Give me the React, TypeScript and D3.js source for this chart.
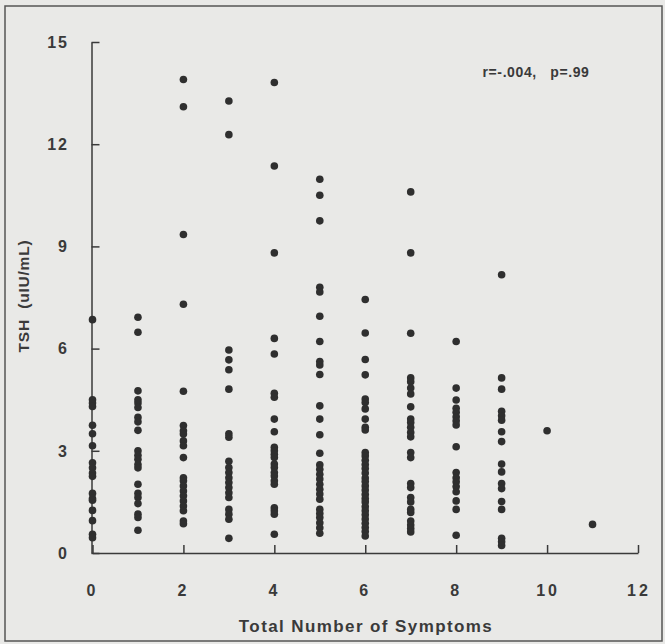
import { useEffect, useRef } from 'react';
import * as d3 from 'd3';

// TSH values, one list per symptom count
const symptoms0 = [6.85, 4.5, 4.4, 4.3, 3.75, 3.5, 3.15, 2.65, 2.5, 2.35, 2.25, 1.75, 1.6, 1.55, 1.25, 0.95, 0.55, 0.45];
const symptoms1 = [6.92, 6.48, 4.76, 4.5, 4.4, 4.27, 3.98, 3.85, 3.6, 3.0, 2.87, 2.75, 2.6, 2.5, 2.02, 1.75, 1.63, 1.45, 1.14, 1.04, 0.67];
const symptoms2 = [13.9, 13.1, 9.35, 7.3, 4.75, 3.74, 3.59, 3.49, 3.29, 3.15, 2.8, 2.21, 2.12, 1.97, 1.82, 1.68, 1.53, 1.38, 1.24, 0.94, 0.86];
const symptoms3 = [13.27, 12.28, 5.96, 5.67, 5.38, 4.81, 3.5, 3.4, 2.69, 2.51, 2.36, 2.21, 2.07, 1.92, 1.77, 1.63, 1.28, 1.14, 0.99, 0.43];
const symptoms4 = [13.81, 11.36, 8.81, 6.3, 5.84, 4.69, 4.57, 3.93, 3.56, 3.1, 3.0, 2.9, 2.8, 2.61, 2.51, 2.36, 2.26, 2.12, 2.02, 1.33, 1.24, 1.14, 0.55];
const symptoms5 = [10.97, 10.5, 9.75, 7.8, 7.66, 6.95, 6.21, 5.62, 5.52, 5.24, 4.32, 3.93, 3.47, 2.93, 2.59, 2.46, 2.31, 2.17, 2.02, 1.87, 1.73, 1.58, 1.28, 1.16, 1.04, 0.89, 0.74, 0.58];
const symptoms6 = [7.44, 6.46, 5.68, 5.23, 4.52, 4.42, 4.23, 3.93, 3.69, 3.61, 2.95, 2.85, 2.72, 2.6, 2.48, 2.35, 2.2, 2.1, 1.97, 1.85, 1.72, 1.6, 1.5, 1.36, 1.24, 1.12, 1.0, 0.87, 0.75, 0.63, 0.5];
const symptoms7 = [10.6, 8.81, 6.45, 5.14, 5.03, 4.84, 4.67, 4.29, 3.93, 3.83, 3.69, 3.54, 3.41, 2.95, 2.8, 2.04, 1.92, 1.63, 1.5, 1.28, 1.19, 0.94, 0.82, 0.72, 0.62];
const symptoms8 = [6.21, 4.84, 4.49, 4.25, 4.13, 4.0, 3.88, 3.76, 3.12, 2.36, 2.21, 2.09, 1.95, 1.8, 1.53, 1.28, 0.52];
const symptoms9 = [8.17, 5.14, 4.81, 4.16, 4.03, 3.9, 3.56, 3.27, 2.61, 2.38, 2.04, 1.89, 1.51, 1.28, 0.43, 0.33, 0.22];
const symptoms10 = [3.59];
const symptoms11 = [0.84];

const columns = [symptoms0, symptoms1, symptoms2, symptoms3, symptoms4, symptoms5,
  symptoms6, symptoms7, symptoms8, symptoms9, symptoms10, symptoms11];

const xTicks = [0, 2, 4, 6, 8, 10, 12];
const yTicks = [0, 3, 6, 9, 12, 15];

const W = 665;
const H = 644;
const FONT = '"Liberation Sans", Arial, Helvetica, sans-serif';

const App = () => {
  const svgRef = useRef<SVGSVGElement>(null);

  useEffect(() => {
    const svg = d3.select(svgRef.current);
    svg.selectAll('*').remove();

    const x = d3.scaleLinear().domain([0, 12]).range([92.5, 638]);
    const y = d3.scaleLinear().domain([0, 15]).range([553, 42]);

    // paper + frame
    svg.append('rect').attr('width', W).attr('height', H).attr('fill', '#e9e9e7');
    svg.append('rect')
      .attr('x', 5).attr('y', 6).attr('width', 657).attr('height', 635)
      .attr('fill', 'none').attr('stroke', '#555').attr('stroke-width', 1.5);

    const ink = '#3a3a3a';

    // y axis, ticks inward
    const yAxis = svg.append('g')
      .attr('transform', `translate(${x(0) - 1},0)`)
      .call(d3.axisRight(y).tickValues(yTicks).tickSize(8).tickFormat(() => '').tickSizeOuter(0));
    yAxis.selectAll('.domain, .tick line').attr('stroke', ink).attr('stroke-width', 1.5);

    // x axis, ticks inward
    const xAxis = svg.append('g')
      .attr('transform', `translate(0,${y(0)})`)
      .call(d3.axisTop(x).tickValues(xTicks).tickSize(8).tickFormat(() => '').tickSizeOuter(0));
    xAxis.selectAll('.domain, .tick line').attr('stroke', ink).attr('stroke-width', 1.5);

    // tick labels
    svg.append('g').selectAll('text')
      .data(yTicks)
      .enter()
      .append('text')
      .attr('x', 69)
      .attr('y', d => y(d))
      .attr('dy', '0.36em')
      .attr('text-anchor', 'end')
      .attr('font-family', FONT)
      .attr('font-weight', 'bold')
      .attr('font-size', '16px')
      .attr('letter-spacing', '2px')
      .attr('fill', ink)
      .text(d => d);

    svg.append('g').selectAll('text')
      .data(xTicks)
      .enter()
      .append('text')
      .attr('x', d => x(d) + (d >= 10 ? 1 : 0))
      .attr('y', 590)
      .attr('dy', '0.36em')
      .attr('text-anchor', 'middle')
      .attr('font-family', FONT)
      .attr('font-weight', 'bold')
      .attr('font-size', '16px')
      .attr('letter-spacing', '3px')
      .attr('fill', ink)
      .text(d => d);

    // axis titles
    svg.append('text')
      .attr('x', 366)
      .attr('y', 626)
      .attr('dy', '0.36em')
      .attr('text-anchor', 'middle')
      .attr('font-family', FONT)
      .attr('font-weight', 'bold')
      .attr('font-size', '17px')
      .attr('letter-spacing', '1.4px')
      .attr('fill', ink)
      .text('Total Number of Symptoms');

    svg.append('text')
      .attr('transform', 'translate(23,296) rotate(-90)')
      .attr('dy', '0.36em')
      .attr('text-anchor', 'middle')
      .attr('font-family', FONT)
      .attr('font-weight', 'bold')
      .attr('font-size', '15.5px')
      .attr('letter-spacing', '0.8px')
      .attr('fill', ink)
      .style('white-space', 'pre')
      .text('TSH  (uIU/mL)');

    svg.append('text')
      .attr('x', 536)
      .attr('y', 72)
      .attr('dy', '0.36em')
      .attr('text-anchor', 'middle')
      .attr('font-family', FONT)
      .attr('font-weight', 'bold')
      .attr('font-size', '14px')
      .attr('letter-spacing', '0.6px')
      .attr('fill', ink)
      .style('white-space', 'pre')
      .text('r=-.004,   p=.99');

    // points
    const points = columns.flatMap((vals, i) => vals.map(v => ({ n: i, tsh: v })));
    svg.append('g').selectAll('circle')
      .data(points)
      .enter()
      .append('circle')
      .attr('cx', d => x(d.n))
      .attr('cy', d => y(d.tsh))
      .attr('r', 3.8)
      .attr('fill', '#2f2f2f');
  }, []);

  return (
    <div style={{ position: 'absolute', left: 0, top: 0 }}>
      <svg ref={svgRef} width={W} height={H} style={{ display: 'block' }} />
    </div>
  );
};

export default App;
